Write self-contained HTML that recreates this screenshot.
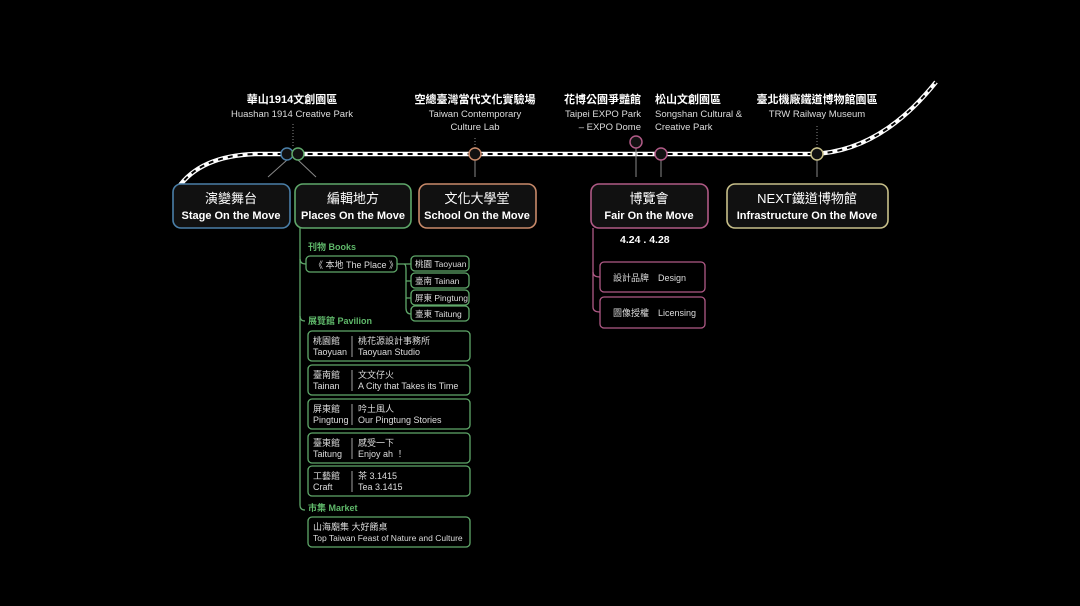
<!DOCTYPE html>
<html><head><meta charset="utf-8"><style>
body{margin:0;background:#000;}
svg{display:block}
text{font-family:"Liberation Sans","Noto Sans CJK TC",sans-serif;fill:#fff;}
.t{font-size:9.5px;fill:#ddd}
.h{font-size:11px;font-weight:bold}
.b1{font-size:13px}
.b2{font-size:11px;font-weight:bold}
.s{font-size:9px;fill:#ddd}
.ss{font-size:8.5px;fill:#ddd}
.g{font-size:9px;fill:#5fb86a;font-weight:bold}
</style></head><body>
<svg width="1080" height="606" viewBox="0 0 1080 606">
<rect width="1080" height="606" fill="#000"/>
<!-- track -->
<g fill="none">
<path d="M178,188 Q200,156 255,154 L812,154 Q880,152 936,82" stroke="#fff" stroke-width="4.5"/>
<path d="M178,188 Q200,156 255,154 L812,154 Q880,152 936,82" stroke="#000" stroke-width="2" stroke-dasharray="5 5"/>
</g>
<!-- connectors -->
<g stroke="#888" stroke-width="1" fill="none">
<line x1="293" y1="124" x2="293" y2="148" stroke-dasharray="1 2"/>
<line x1="287" y1="160" x2="268" y2="177"/>
<line x1="298" y1="160" x2="316" y2="177"/>
<line x1="475" y1="138" x2="475" y2="148" stroke-dasharray="1 2"/>
<line x1="475" y1="160" x2="475" y2="177"/>
<line x1="636" y1="148" x2="636" y2="177"/>
<line x1="661" y1="160" x2="661" y2="177"/>
<line x1="817" y1="126" x2="817" y2="148" stroke-dasharray="1 2"/>
<line x1="817" y1="160" x2="817" y2="177"/>
</g>
<g stroke-width="1.5" fill="#111">
<circle cx="287" cy="154" r="6" stroke="#4a7fa8"/>
<circle cx="298" cy="154" r="6" stroke="#5fa86a"/>
<circle cx="475" cy="154" r="6" stroke="#c98a6a"/>
<circle cx="636" cy="142" r="6" stroke="#b05a86"/>
<circle cx="661" cy="154" r="6" stroke="#b05a86"/>
<circle cx="817" cy="154" r="6" stroke="#c8c08a"/>
</g>
<!-- top labels -->
<g text-anchor="middle">
<text x="292" y="103" class="h">華山1914文創園區</text>
<text x="292" y="117" class="t">Huashan 1914 Creative Park</text>
<text x="475" y="103" class="h">空總臺灣當代文化實驗場</text>
<text x="475" y="117" class="t">Taiwan Contemporary</text>
<text x="475" y="130" class="t">Culture Lab</text>
<text x="817" y="103" class="h">臺北機廠鐵道博物館園區</text>
<text x="817" y="117" class="t">TRW Railway Museum</text>
</g>
<g text-anchor="end">
<text x="641" y="103" class="h">花博公園爭豔館</text>
<text x="641" y="117" class="t">Taipei EXPO Park</text>
<text x="641" y="130" class="t">– EXPO Dome</text>
</g>
<text x="655" y="103" class="h">松山文創園區</text>
<text x="655" y="117" class="t">Songshan Cultural &amp;</text>
<text x="655" y="130" class="t">Creative Park</text>
<!-- main boxes -->
<g stroke-width="1.6" fill="#111">
<rect x="173" y="184" width="117" height="44" rx="8" stroke="#4a7fa8"/>
<rect x="295" y="184" width="116" height="44" rx="8" stroke="#5fa86a"/>
<rect x="419" y="184" width="117" height="44" rx="8" stroke="#c98a6a"/>
<rect x="591" y="184" width="117" height="44" rx="8" stroke="#b05a86"/>
<rect x="727" y="184" width="161" height="44" rx="8" stroke="#c8c08a"/>
</g>
<g text-anchor="middle">
<text x="231" y="203" class="b1">演變舞台</text><text x="231" y="219" class="b2">Stage On the Move</text>
<text x="353" y="203" class="b1">編輯地方</text><text x="353" y="219" class="b2">Places On the Move</text>
<text x="477" y="203" class="b1">文化大學堂</text><text x="477" y="219" class="b2">School On the Move</text>
<text x="649" y="203" class="b1">博覽會</text><text x="649" y="219" class="b2">Fair On the Move</text>
<text x="807" y="203" class="b1">NEXT鐵道博物館</text><text x="807" y="219" class="b2">Infrastructure On the Move</text>
</g>
<!-- green tree -->
<g stroke="#5fa86a" stroke-width="1.3" fill="none">
<path d="M300,228 L300,505 Q300,510 305,510"/>
<path d="M300,259 Q300,264 306,264"/>
<path d="M300,316 Q300,321 305,321"/>
<path d="M397,264 L404,264 Q406,264 406,270 L406,308 Q406,314 411,314"/>
<path d="M404,264 L411,264 M406,281 L411,281 M406,298 L411,298"/>
<rect x="306" y="256" width="91" height="16" rx="4"/>
<rect x="411" y="256" width="58" height="15" rx="4"/>
<rect x="411" y="273" width="58" height="15" rx="4"/>
<rect x="411" y="290" width="58" height="15" rx="4"/>
<rect x="411" y="306" width="58" height="15" rx="4"/>
<rect x="308" y="331" width="162" height="30" rx="4"/>
<rect x="308" y="365" width="162" height="30" rx="4"/>
<rect x="308" y="399" width="162" height="30" rx="4"/>
<rect x="308" y="433" width="162" height="30" rx="4"/>
<rect x="308" y="466" width="162" height="30" rx="4"/>
<rect x="308" y="517" width="162" height="30" rx="4"/>
</g>
<g stroke="#ccc" stroke-width="0.8">
<line x1="352" y1="336" x2="352" y2="357"/><line x1="352" y1="370" x2="352" y2="391"/>
<line x1="352" y1="404" x2="352" y2="425"/><line x1="352" y1="438" x2="352" y2="459"/>
<line x1="352" y1="471" x2="352" y2="492"/>
</g>
<text x="308" y="250" class="g">刊物 Books</text>
<text x="308" y="324" class="g">展覽館 Pavilion</text>
<text x="308" y="511" class="g">市集 Market</text>
<text x="314" y="268" class="s">《 本地 The Place 》</text>
<text x="415" y="267" class="ss">桃園 Taoyuan</text>
<text x="415" y="284" class="ss">臺南 Tainan</text>
<text x="415" y="301" class="ss">屏東 Pingtung</text>
<text x="415" y="317" class="ss">臺東 Taitung</text>
<text x="313" y="344" class="s">桃園館</text><text x="313" y="355" class="s">Taoyuan</text>
<text x="358" y="344" class="s">桃花源設計事務所</text><text x="358" y="355" class="s">Taoyuan Studio</text>
<text x="313" y="378" class="s">臺南館</text><text x="313" y="389" class="s">Tainan</text>
<text x="358" y="378" class="s">文文仔火</text><text x="358" y="389" class="s">A City that Takes its Time</text>
<text x="313" y="412" class="s">屏東館</text><text x="313" y="423" class="s">Pingtung</text>
<text x="358" y="412" class="s">吟土風人</text><text x="358" y="423" class="s">Our Pingtung Stories</text>
<text x="313" y="446" class="s">臺東館</text><text x="313" y="457" class="s">Taitung</text>
<text x="358" y="446" class="s">感受一下</text><text x="358" y="457" class="s">Enjoy ah ！</text>
<text x="313" y="479" class="s">工藝館</text><text x="313" y="490" class="s">Craft</text>
<text x="358" y="479" class="s">茶 3.1415</text><text x="358" y="490" class="s">Tea 3.1415</text>
<text x="313" y="530" class="s">山海廟集 大好餚桌</text><text x="313" y="541" class="ss">Top Taiwan Feast of Nature and Culture</text>
<!-- fair tree -->
<text x="620" y="243" class="h" style="font-size:10.5px">4.24 . 4.28</text>
<g stroke="#b05a86" stroke-width="1.3" fill="none">
<path d="M593,228 L593,307 Q593,312 600,312"/>
<path d="M593,272 Q593,277 600,277"/>
<rect x="600" y="262" width="105" height="30" rx="4"/>
<rect x="600" y="297" width="105" height="31" rx="4"/>
</g>
<text x="613" y="281" class="s">設計品牌　Design</text>
<text x="613" y="316" class="s">圖像授權　Licensing</text>
</svg>
</body></html>
